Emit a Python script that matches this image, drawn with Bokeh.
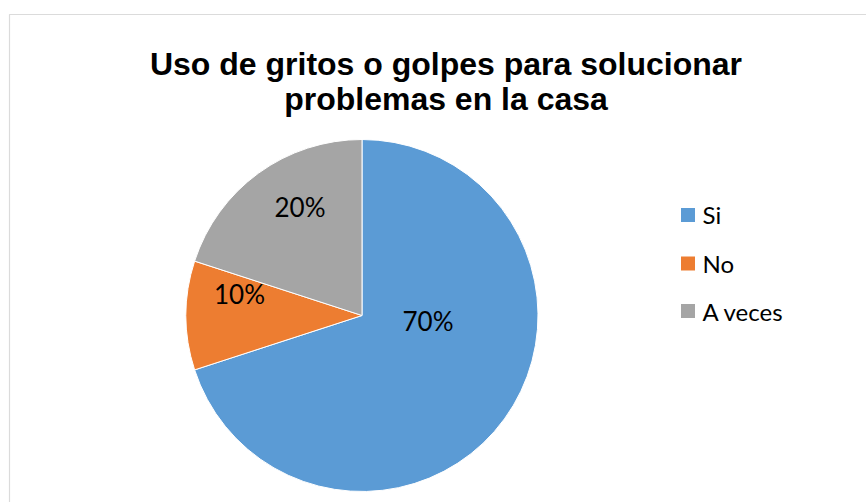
import math
from bokeh.plotting import figure
from bokeh.models import Range1d, ColumnDataSource, BoxAnnotation
from bokeh.core.properties import value
from bokeh.embed import file_html
from bokeh.resources import INLINE

# ---- data ----
categories = ["Si", "No", "A veces"]
percent = [70, 10, 20]
colors = ["#5B9BD5", "#ED7D31", "#A5A5A5"]
title_lines = ["Uso de gritos o golpes para solucionar", "problemas en la casa"]

# ---- layout ----
W, H = 866, 502
cx, cy, r = 361.5, 187, 176
label_x = [427.5, 239, 299.5]
label_y = [182, 209, 296]
leg_sq_x = 687.5
leg_sq_y = [287.5, 239, 191.5]
leg_txt_x = 702
leg_txt_y = [288, 239, 191]

total = sum(percent)
starts, ends = [], []
cum = 0.0
for v in percent:
    a0 = math.pi / 2 - 2 * math.pi * cum / total
    cum += v
    a1 = math.pi / 2 - 2 * math.pi * cum / total
    starts.append(a0)
    ends.append(a1)

src = ColumnDataSource(dict(cat=categories, start=starts, end=ends, color=colors,
                            lab=[f"{v}%" for v in percent], lx=label_x, ly=label_y,
                            sqy=leg_sq_y, ty=leg_txt_y))

p = figure(width=W, height=H, output_backend="svg", toolbar_location=None,
           x_range=Range1d(0, W), y_range=Range1d(0, H),
           x_axis_type=None, y_axis_type=None, min_border=0)
p.grid.visible = False
p.outline_line_color = None
p.background_fill_color = "white"
p.border_fill_color = "white"

p.add_layout(BoxAnnotation(left=9, top=488, right=W + 10, bottom=-10,
                           fill_alpha=0, line_color="#888888", line_width=1.2))

p.wedge(x=cx, y=cy, radius=r, start_angle="start", end_angle="end", direction="clock",
        fill_color="color", line_color="white", line_width=1, source=src)

p.text(x="lx", y="ly", text="lab", source=src, text_font=value("Lato"),
       text_font_size="26px", text_color="black", text_align="center",
       text_baseline="alphabetic")

p.rect(x=leg_sq_x, y="sqy", width=14, height=14, fill_color="color",
       line_color=None, source=src)
p.text(x=leg_txt_x, y="ty", text="cat", source=src, text_font=value("Lato"),
       text_font_size="24px", text_color="black", text_align="left",
       text_baseline="alphabetic")

p.text(x=[445.5, 445.5], y=[439, 404], text=title_lines,
       text_font=value("Liberation Sans"), text_font_style="bold",
       text_font_size="32px", text_color="black", text_align="center",
       text_baseline="alphabetic")

open("out.html", "w").write(file_html(p, INLINE))
